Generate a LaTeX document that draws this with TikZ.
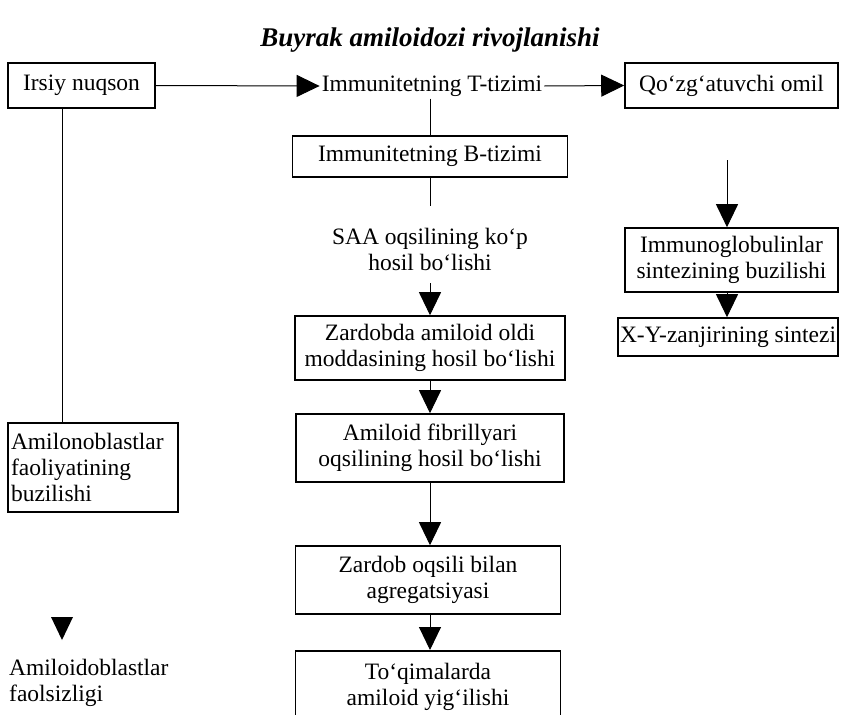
\documentclass[tikz,border=0pt]{standalone}
\usepackage{fontspec}
\setmainfont{Liberation Serif}
\usetikzlibrary{arrows.meta,calc}
\tikzset{
  box/.style={draw, line width=1.6pt, inner xsep=1pt, inner ysep=2pt, align=center, font=\fontsize{23.5}{26}\selectfont},
  lbl/.style={inner sep=2pt, align=center, font=\fontsize{23.5}{26}\selectfont},
  conn/.style={line width=1pt},
  arr/.style={line width=1pt, -{Triangle[width=22pt,length=23pt]}},
}
\begin{document}
\begin{tikzpicture}[x=1pt,y=-1pt]
\useasboundingbox (0,0) rectangle (841,715);
\clip (0,0) rectangle (841,715);
\node[font=\fontsize{27}{30}\selectfont\bfseries\itshape] (title) at (430,40) {Buyrak amiloidozi rivojlanishi};

\node[box, minimum width=147pt, minimum height=45pt] (irsiy) at (81.5,85.5) {Irsiy nuqson};
\node[lbl] (ttiz) at (432,86) {Immunitetning T-tizimi};
\node[box, minimum width=213pt, minimum height=45pt] (qoz) at (731.5,85.5) {Qo‘zg‘atuvchi omil};

\node[box, minimum width=275pt, minimum height=41pt] (btiz) at (430,156.5) {Immunitetning B-tizimi};
\node[lbl] (saa) at (430,249) {SAA oqsilining ko‘p\\hosil bo‘lishi};
\node[box, minimum width=270pt, minimum height=64pt] (zard) at (430,348) {Zardobda amiloid oldi\\moddasining hosil bo‘lishi};
\node[box, minimum width=268pt, minimum height=68pt] (fibr) at (430,448) {Amiloid fibrillyari\\oqsilining hosil bo‘lishi};
\node[box, minimum width=265pt, minimum height=68pt] (agr) at (428,580) {Zardob oqsili bilan\\agregatsiyasi};
\node[box, inner ysep=12pt, minimum width=265pt, anchor=north] (toq) at (428,650) {To‘qimalarda\\amiloid yig‘ilishi\\[10pt]\strut};

\node[box, minimum width=213pt, minimum height=64pt] (immg) at (731.5,260) {Immunoglobulinlar\\sintezining buzilishi};
\node[box, minimum width=220pt, minimum height=38pt] (xy) at (728,337) {X-Y-zanjirining sintezi};

\node[box, minimum width=170pt, minimum height=89pt, align=left, text width=164pt] (amil) at (93,467.5) {Amilonoblastlar\\faoliyatining\\buzilishi};
\node[lbl, align=left, anchor=west] (amfs) at (7,683) {Amiloidoblastlar\\faolsizligi};

% connectors
\draw[arr] (irsiy.east) -- (ttiz.west);
\draw[arr] (ttiz.east) -- (qoz.west);
\draw[conn] (ttiz.south -| btiz.north) -- (btiz.north);
\draw[conn] (btiz.south) -- ++(0,28);
\coordinate (saabot) at (430,283);
\draw[arr] (saabot) -- (zard.north);
\draw[arr] (zard.south) -- (zard.south |- fibr.north);
\draw[arr] (fibr.south) -- (fibr.south |- agr.north);
\draw[arr] (agr.south -| fibr.south) -- (fibr.south |- toq.north);
\coordinate (rtop) at (727,160);
\draw[arr] (rtop) -- (rtop |- immg.north);
\draw[arr] (rtop |- immg.south) -- (rtop |- xy.north);
\draw[conn] (62,0 |- irsiy.south) -- (62,0 |- amil.north);
\coordinate (freetip) at (62,640);
\fill (freetip) -- ++(-11,-23) -- ++(22,0) -- cycle;
\end{tikzpicture}
\end{document}
